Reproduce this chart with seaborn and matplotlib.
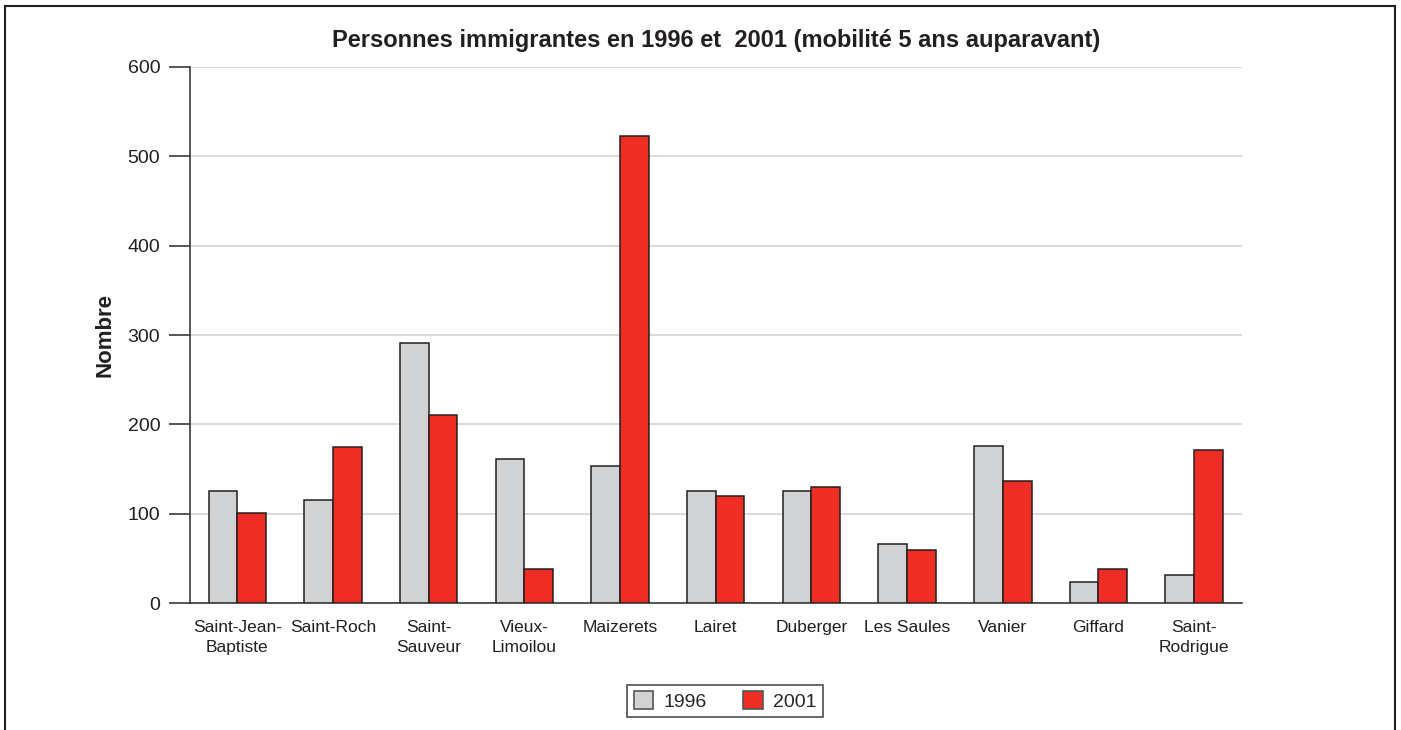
import matplotlib
matplotlib.use("Agg")
import matplotlib.pyplot as plt
from matplotlib.patches import Rectangle
import seaborn as sns
import pandas as pd
import numpy as np

# Neighbourhoods and counts of immigrants (5-year mobility)
quartiers = ["Saint-Jean-\nBaptiste", "Saint-Roch", "Saint-\nSauveur", "Vieux-\nLimoilou",
             "Maizerets", "Lairet", "Duberger", "Les Saules", "Vanier", "Giffard",
             "Saint-\nRodrigue"]
annees = ["1996", "2001"]
valeurs_1996 = [126, 116, 291, 161, 154, 126, 126, 66, 176, 24, 32]
valeurs_2001 = [101, 175, 210, 38, 522, 120, 130, 60, 137, 38, 171]
yticks = [0, 100, 200, 300, 400, 500, 600]

df = pd.DataFrame({
    "quartier": quartiers * 2,
    "annee": [annees[0]] * len(quartiers) + [annees[1]] * len(quartiers),
    "nombre": valeurs_1996 + valeurs_2001,
})

sns.set_theme(style="white")
plt.rcParams["font.family"] = ["Liberation Sans Narrow", "Liberation Sans", "DejaVu Sans"]

fig = plt.figure(figsize=(14.01, 7.30), dpi=100)
ax = fig.add_axes([189.5 / 1401, 1 - 603.3 / 730, (1242 - 189.5) / 1401, (603.3 - 66.7) / 730])

gris, rouge, bord = "#d1d2d4", "#ee2e24", "#231f20"
sns.barplot(data=df, x="quartier", y="nombre", hue="annee", order=quartiers,
            hue_order=annees, palette=[gris, rouge], saturation=1, width=0.6,
            gap=0, edgecolor=bord, linewidth=1.1, ax=ax, zorder=3)

ax.set_xlim(-0.5, len(quartiers) - 0.5)
ax.set_ylim(0, 600)
ax.set_yticks(yticks)
ax.set_yticklabels([str(v) for v in yticks], fontsize=14, color="#231f20")
ax.yaxis.grid(True, color="#d3d3d3", linewidth=1.2, zorder=0)
ax.set_axisbelow(True)

ax.set_xticks(range(len(quartiers)))
ax.set_xticklabels(quartiers, fontsize=12.5, color="#231f20", linespacing=1.45)
ax.set_xticks(np.arange(-0.5, len(quartiers)), minor=True)
ax.tick_params(axis="x", which="major", length=0, pad=12)
ax.tick_params(axis="x", which="minor", length=10, width=1.2, color="#3a3a3a", direction="out")
ax.tick_params(axis="y", length=15, width=1.2, color="#3a3a3a", direction="out", pad=6, left=True)

for side in ("top", "right"):
    ax.spines[side].set_visible(False)
for side in ("left", "bottom"):
    ax.spines[side].set_color("#3a3a3a")
    ax.spines[side].set_linewidth(1.2)

ax.set_xlabel("")
ax.set_ylabel("Nombre", fontsize=16, fontweight="bold", color="#231f20", labelpad=9)
ax.set_title("Personnes immigrantes en 1996 et  2001 (mobilité 5 ans auparavant)",
             fontsize=17, fontweight="bold", color="#231f20", pad=14)

leg = ax.legend(loc="center", bbox_to_anchor=(725 / 1401, 1 - 701 / 730),
                bbox_transform=fig.transFigure, ncol=2, frameon=True, fancybox=False,
                fontsize=14, handlelength=1.0, handleheight=1.0, columnspacing=1.9,
                handletextpad=0.5, borderpad=0.35, title=None)
leg.get_frame().set_edgecolor("#231f20")
leg.get_frame().set_linewidth(1.2)
for h in leg.legend_handles:
    h.set_edgecolor("#555555")
    h.set_linewidth(1.2)

# Outer frame around the figure, open at the bottom edge
fig.patches.append(Rectangle((5 / 1401, -0.05), 1390 / 1401, 1 - 6 / 730 + 0.05,
                             transform=fig.transFigure, fill=False,
                             edgecolor="#231f20", linewidth=1.5, figure=fig))

fig.savefig("out.png", dpi=100)
